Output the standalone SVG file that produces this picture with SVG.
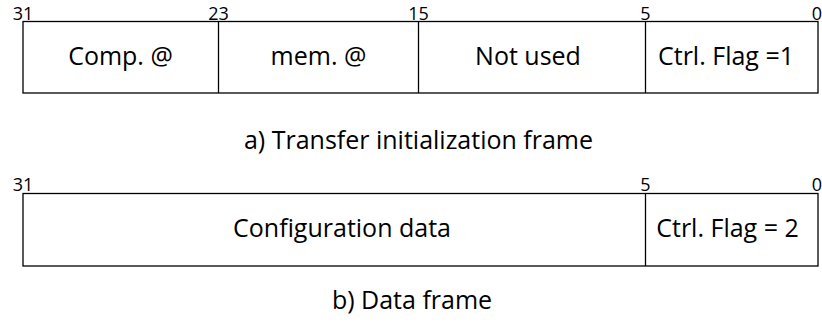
<svg xmlns="http://www.w3.org/2000/svg" width="822" height="329" viewBox="0 0 822 329">
<style>
.box{fill:#fff;stroke:#000;stroke-width:1.3}
.div{stroke:#000;stroke-width:1.3}
.lbl{font-family:"Open Sans","Liberation Sans",sans-serif;font-size:25px;fill:#000;text-anchor:middle}
.bit{font-family:"Open Sans","Liberation Sans",sans-serif;font-size:18px;fill:#000;text-anchor:middle}
.cap{font-family:"Open Sans","Liberation Sans",sans-serif;font-size:25px;fill:#000;text-anchor:middle}
</style>
<rect width="822" height="329" fill="#fff"/>
<g id="frame-a">
<rect class="box" x="23" y="21.5" width="795" height="71.5"/>
<line class="div" x1="218.5" y1="21.5" x2="218.5" y2="93"/>
<line class="div" x1="418.5" y1="21.5" x2="418.5" y2="93"/>
<line class="div" x1="645.5" y1="21.5" x2="645.5" y2="93"/>
<text class="lbl" x="120.5" y="65">Comp. @</text>
<text class="lbl" x="318.5" y="65">mem. @</text>
<text class="lbl" x="528" y="65">Not used</text>
<text class="lbl" x="726" y="65">Ctrl. Flag =1</text>
<text class="bit" x="23" y="19.5">31</text>
<text class="bit" x="218.5" y="19.5">23</text>
<text class="bit" x="418.5" y="19.5">15</text>
<text class="bit" x="645.5" y="19.5">5</text>
<text class="bit" x="817" y="19.5">0</text>
<text class="cap" x="418.5" y="149">a) Transfer initialization frame</text>
</g>
<g id="frame-b">
<rect class="box" x="23" y="193.5" width="795" height="72.5"/>
<line class="div" x1="645.5" y1="193.5" x2="645.5" y2="266"/>
<text class="lbl" x="342" y="237">Configuration data</text>
<text class="lbl" x="727.5" y="237">Ctrl. Flag = 2</text>
<text class="bit" x="23" y="191">31</text>
<text class="bit" x="645.5" y="191">5</text>
<text class="bit" x="817" y="191">0</text>
<text class="cap" x="412" y="309">b) Data frame</text>
</g>
<g id="connectors"></g>
</svg>
